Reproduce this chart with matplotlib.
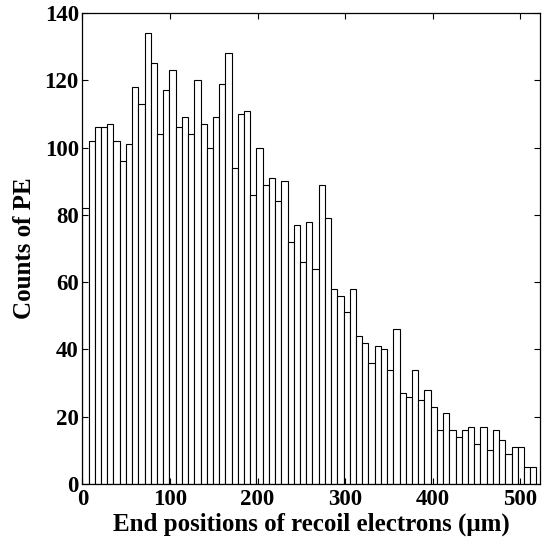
import numpy as np
import matplotlib
matplotlib.use("Agg")
import matplotlib.pyplot as plt

# Histogram counts (73 bins)
counts = [82, 102, 106, 106, 107, 102, 96, 101, 118, 113, 134, 125, 104, 117, 123,
          106, 109, 104, 120, 107, 100, 109, 119, 128, 94, 110, 111, 86, 100, 89,
          91, 84, 90, 72, 77, 66, 78, 64, 89, 79, 58, 56, 51,
          58, 44, 42, 36, 41, 40, 34, 46, 27, 26, 34, 25, 28, 23, 16,
          21, 16, 14, 16, 17, 12, 17, 10, 16, 13, 9, 11, 11, 5, 5]
bin_width = 7.1
edges = np.arange(len(counts) + 1) * bin_width
xticks = [0, 100, 200, 300, 400, 500]
yticks = [0, 20, 40, 60, 80, 100, 120, 140]

plt.rcParams['font.family'] = ['Liberation Serif', 'DejaVu Serif']
plt.rcParams['font.weight'] = 'bold'

fig = plt.figure(figsize=(5.6, 5.41), dpi=100)
ax = fig.add_axes([0.147, 0.1054, 0.8167, 0.8706])

ax.bar(edges[:-1], counts, width=bin_width, align='edge',
       facecolor='white', edgecolor='black', linewidth=0.8)

ax.set_xlim(0, 522)
ax.set_ylim(0, 140)
ax.set_xticks(xticks)
ax.set_yticks(yticks)
ax.tick_params(direction='in', length=4, width=0.8, top=True, right=True,
               labelsize=16.5)
ax.tick_params(axis='x', pad=3.5)
ax.tick_params(axis='y', pad=2.5)
for lab in ax.get_xticklabels() + ax.get_yticklabels():
    lab.set_fontweight('bold')
for s in ax.spines.values():
    s.set_linewidth(0.9)

ax.set_xlabel('End positions of recoil electrons (μm)', fontsize=18,
              fontweight='bold', labelpad=2)
ax.set_ylabel('Counts of PE', fontsize=18, fontweight='bold', labelpad=6)

fig.savefig('out.png', dpi=100, facecolor='white')
